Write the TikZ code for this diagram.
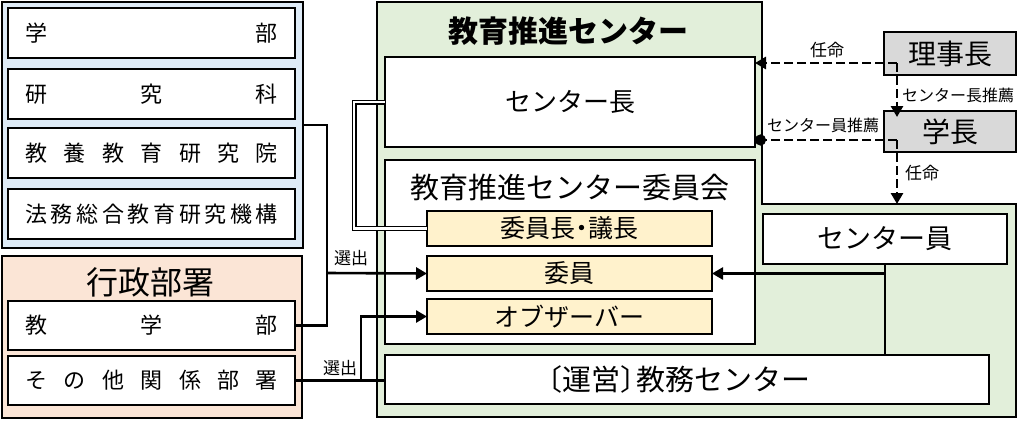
\documentclass[tikz,border=0pt]{standalone}
\usepackage{fontspec}
\setmainfont{Noto Sans CJK JP}
\usetikzlibrary{arrows.meta}
\definecolor{bluef}{HTML}{DEEBF7}
\definecolor{orangef}{HTML}{FBE5D6}
\definecolor{greenf}{HTML}{E2EFDA}
\definecolor{yellowf}{HTML}{FFF2CC}
\definecolor{grayf}{HTML}{D9D9D9}
\tikzset{
  box/.style={draw=black, line width=2.2pt, inner sep=0pt, outer sep=0pt, anchor=north west, fill=white},
  grp/.style={draw=black, line width=1.8pt, inner sep=0pt, outer sep=0pt, anchor=north west},
  conn/.style={draw=black, line width=2.6pt},
  tip/.style={-{Triangle[length=11pt,width=12pt]}},
  dsh/.style={draw=black, line width=2.8pt, dash pattern=on 9pt off 4pt},
  dbl/.style={draw=black, line width=1.2pt, double=white, double distance=2.6pt},
  lbl/.style={inner sep=0pt, font=\fontsize{16}{18}\selectfont},
  big/.style={font=\fontsize{27}{30}\selectfont},
  mid/.style={font=\fontsize{25}{28}\selectfont},
  side/.style={font=\fontsize{22}{25}\selectfont},
}
\begin{document}
\begin{tikzpicture}[x=1pt,y=-1pt]
\useasboundingbox (0,0) rectangle (1031,421);
% left groups
\node[grp, fill=bluef, minimum width=301pt, minimum height=246pt] (blue) at (2,2) {};
\node[box, side, minimum width=287pt, minimum height=50pt] (gakubu) at (8,8) {\hbox to 253pt{学\hfil 部}};
\node[box, side, minimum width=287pt, minimum height=50pt] (kenkyuka) at (8,69) {\hbox to 253pt{研\hfil 究\hfil 科}};
\node[box, side, minimum width=287pt, minimum height=50pt] (kyoyo) at (8,128) {\hbox to 253pt{教\hfil 養\hfil 教\hfil 育\hfil 研\hfil 究\hfil 院}};
\node[box, side, minimum width=287pt, minimum height=50pt] (homu) at (8,189) {\hbox to 253pt{法\hfil 務\hfil 総\hfil 合\hfil 教\hfil 育\hfil 研\hfil 究\hfil 機\hfil 構}};
\node[grp, fill=orangef, minimum width=300pt, minimum height=162pt] (orange) at (2,256) {};
\node[font=\fontsize{32}{34}\selectfont] (gyosei) at (150,282) {行政部署};
\node[box, side, minimum width=287pt, minimum height=49pt] (kyogaku) at (8,301) {\hbox to 253pt{教\hfil 学\hfil 部}};
\node[box, side, minimum width=287pt, minimum height=49pt] (sonota) at (8,356) {\hbox to 253pt{そ\hfil の\hfil 他\hfil 関\hfil 係\hfil 部\hfil 署}};
% green center
\draw[draw=black, line width=1.8pt, fill=greenf] (377,2) -- (762,2) -- (762,204) -- (1016,204) -- (1016,417) -- (377,417) -- cycle;
\node[font=\fontsize{30}{32}\selectfont\bfseries] (title) at (568,31) {教育推進センター};
\node[box, font=\fontsize{26}{29}\selectfont, minimum width=370pt, minimum height=90pt] (chief) at (385,57) {センター長};
\node[box, minimum width=370pt, minimum height=184pt] (comm) at (385,160) {};
\node[font=\fontsize{29}{31}\selectfont] (commt) at (570,187) {教育推進センター委員会};
\node[box, mid, fill=yellowf, minimum width=285pt, minimum height=35pt] (iinchou) at (427,211) {委員長\kern-6pt・\kern-6pt 議長};
\node[box, mid, fill=yellowf, minimum width=285pt, minimum height=35pt] (iin) at (427,256) {委員};
\node[box, mid, fill=yellowf, minimum width=285pt, minimum height=35pt] (obs) at (427,299) {オブザーバー};
\node[box, font=\fontsize{29}{31}\selectfont, minimum width=604pt, minimum height=49pt] (unei) at (385,355) {〔運営〕\kern-13pt 教務センター\hspace*{30pt}};
\node[box, big, minimum width=244pt, minimum height=50pt] (sin) at (763,214) {センター員};
% right
\node[box, font=\fontsize{28}{30}\selectfont, fill=grayf, minimum width=132pt, minimum height=43pt] (rijicho) at (884,32) {理事長};
\node[box, font=\fontsize{28}{30}\selectfont, fill=grayf, minimum width=132pt, minimum height=41pt] (gakucho) at (884,111) {学長};
% connectors left
\coordinate (j1) at (327,273);
\draw[conn] (blue.east) -| (j1) |- (kyogaku.east);
\draw[conn, tip] (j1) -- (iin.west);
\node[lbl, font=\fontsize{17}{19}\selectfont] (sel1) at (351,258) {選出};
\coordinate (j2) at (361,380.5);
\draw[conn] (sonota.east) -- (sonota.east -| unei.west);
\draw[conn, tip] (j2) |- (obs.west);
\node[lbl, font=\fontsize{17}{19}\selectfont] (sel2) at (340,368) {選出};
% double line
\coordinate (d1) at (354,102);
\draw[dbl] (iinchou.west) -| (d1) -- (chief.west);
% center staff
\draw[conn] (sin.south) -- (sin.south |- unei.north);
\coordinate (j3) at (sin.south |- iin.east);
\draw[conn, tip] (j3) -- (iin.east);
% dashed
\coordinate (r1) at (897,63);
\coordinate (g1) at (897,140);
\coordinate (gk) at (897,117);
\coordinate (gtop) at (897,204);
\draw[dsh, tip] (r1) -- (r1 -| chief.east);
\draw[dsh, tip] (r1) -- (gk);
\draw[dsh, -{Circle[length=11pt]}] (g1) -- (g1 -| chief.east);
\draw[dsh, tip] (g1) -- (gtop);
\node[lbl, font=\fontsize{17}{19}\selectfont] (nin1) at (827,50) {任命};
\node[lbl] (suisen1) at (958,95) {センター長推薦};
\node[lbl] (suisen2) at (823,125) {センター員推薦};
\node[lbl, font=\fontsize{17}{19}\selectfont] (nin2) at (922,173) {任命};
\end{tikzpicture}
\end{document}
